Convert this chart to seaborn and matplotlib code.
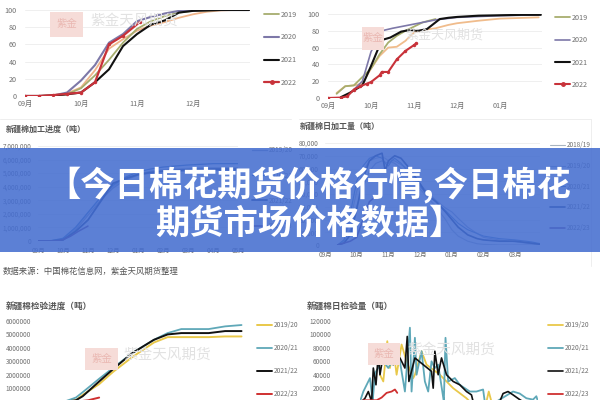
import matplotlib
matplotlib.use("Agg")
import matplotlib.pyplot as plt
from matplotlib.patches import Rectangle
from matplotlib.lines import Line2D
import seaborn as sns

sns.set_theme(style="white")
CJK = ['Noto Sans CJK SC', 'DejaVu Sans']
plt.rcParams['font.family'] = CJK

# ---------- data ----------
headline = "【今日棉花期货价格行情,今日棉花\n期货市场价格数据】"
source_note = "数据来源：中国棉花信息网，紫金天风期货整理"
brand = "紫金天风期货"

titles = ["新疆棉加工进度（吨）", "新疆棉日加工量（吨）", "新疆棉检验进度（吨）", "新疆棉日检验量（吨）"]

# panel 1: processing progress, percent, x in months after September
p1_months = ["09月", "10月", "11月", "12月"]
p1_x = [0, .25, .5, .75, 1, 1.25, 1.5, 1.75, 2, 2.25, 2.5, 2.75, 3, 3.25, 3.5, 3.75, 4]
p1_2018 = [0, 0, 1, 3, 10, 30, 55, 66, 76, 82, 86, 91, 95, 98, 99.5, 100, 100]
p1_2019 = [0, 0, .5, 2, 9, 24, 42, 62, 78, 87, 93, 97, 99, 99.5, 100, 100, 100]
p1_2020 = [0, 0, .5, 4, 18, 36, 62, 72, 87, 92, 96, 99, 99.5, 100, 100, 100, 100]
p1_2021 = [0, 0, .5, 2, 4, 16, 31, 58, 72, 83, 88, 97, 99, 99.5, 100, 100, 100]
p1_2022_x = [0, .25, .5, .75, 1, 1.25, 1.5, 1.75, 2.05]
p1_2022 = [0, 0, 1, 2.5, 4, 16, 60, 70, 86]

# panel 2: daily processing, percent
p2_months = ["09月", "10月", "11月", "12月", "01月"]
p2_2018_x = [.2, .4, .6, .8, 1, 1.2, 1.4, 1.6, 1.8, 2, 2.2, 2.5, 2.8, 3, 3.5, 4, 4.9]
p2_2018 = [6, 14, 15, 17, 35, 50, 60, 61, 68, 78, 81, 83, 87, 89, 92, 94.5, 96]
p2_2019_x = [.2, .4, .6, .8, 1, 1.2, 1.4, 1.6, 1.8, 2, 2.2, 2.5]
p2_2019 = [5, 14, 15, 25, 35, 52, 66, 74, 80, 85, 90, 94]
p2_2020_x = [.6, .8, 1, 1.25, 1.5, 2, 2.5, 3, 4, 4.9]
p2_2020 = [10, 20, 55, 80, 83, 88, 93, 96, 98, 99]
p2_2021_x = [.3, .5, .7, .8, 1, 1.25, 1.45, 1.7, 1.9, 2.1, 2.3, 2.4, 2.6, 2.8, 3, 3.5, 4, 4.5, 4.95]
p2_2021 = [1, 6, 12, 15, 38, 69, 72, 79, 81, 80, 82, 86, 94, 95.5, 96.5, 98, 98.5, 99, 99]
p2_2022_x = [0, .3, .45, .6, .75, .9, 1, 1.2, 1.25, 1.4, 1.6, 1.8, 2, 2.05]
p2_2022 = [0, .5, 2, 10, 14, 17, 19, 27, 31, 31, 46, 56, 63, 65]

# panel 3: cumulative processing, tons
p3_months = ["09月", "10月", "11月", "12月", "01月", "02月", "03月", "04月", "05月"]
p3_ticks = [0, 1000000, 2000000, 3000000, 4000000, 5000000, 6000000, 7000000]
p3_x = [0, .5, 1, 1.5, 2, 2.5, 3, 3.5, 4, 4.5, 5, 6, 7, 8]
p3_1819 = [0, 10000, 150000, 900000, 2100000, 3200000, 4000000, 4600000, 4950000, 5150000, 5250000, 5350000, 5400000, 5400000]
p3_1920 = [0, 5000, 100000, 800000, 1900000, 3000000, 3900000, 4500000, 4850000, 5000000, 5100000, 5150000, 5200000, 5200000]
p3_2021 = [0, 10000, 200000, 1000000, 2100000, 3200000, 4100000, 4700000, 5100000, 5300000, 5450000, 5600000, 5700000, 5700000]
p3_2122 = [0, 5000, 80000, 700000, 1550000, 2900000, 4250000, 4600000, 4900000, 5050000, 5150000, 5250000, 5300000, 5300000]
p3_2223_x = [0, .5, .8, 1, 1.3, 1.6, 2]
p3_2223 = [0, 3000, 20000, 100000, 350000, 700000, 1100000]

# panel 4: daily processing, tons
p4_months = ["09月", "10月", "11月", "12月", "01月", "02月", "03月"]
p4_ticks = [0, 10000, 20000, 30000, 40000, 50000, 60000, 70000, 80000]
p4_x = [.4, .6, .8, 1, 1.2, 1.4, 1.6, 1.8, 1.9, 2, 2.1, 2.2, 2.4, 2.6, 2.8, 3, 3.2, 3.5, 3.8, 4, 4.2, 4.5, 4.8, 5, 5.5, 6, 6.5, 6.8]
p4_1819 = [0, 4000, 20000, 42000, 58000, 66000, 68000, 69000, 68000, 66000, 65000, 64000, 60000, 56000, 50000, 44000, 38000, 30000, 20000, 12000, 7000, 3000, 1000, 500, 0, 0, 0, 0]
p4_1920 = [0, 3000, 12000, 30000, 45000, 58000, 64000, 66000, 65000, 64000, 66000, 66000, 63000, 60000, 54000, 48000, 42000, 35000, 29000, 26000, 21000, 14000, 9000, 6000, 4000, 2500, 1000, 500]
p4_2021 = [0, 4000, 25000, 50000, 62000, 68000, 70000, 68000, 64000, 62000, 66000, 68000, 64000, 58000, 52000, 46000, 40000, 34000, 27000, 22000, 17000, 12000, 9000, 7000, 5000, 4000, 2500, 1000]
p4_2122 = [0, 1500, 8000, 28000, 52000, 66000, 70000, 72000, 58000, 66000, 68000, 70000, 68000, 62000, 55000, 48000, 40000, 34000, 26000, 20000, 14000, 8000, 5000, 4000, 3000, 3000, 1500, 500]
p4_2223_x = [.4, .6, .8, 1, 1.2, 1.4, 1.6]
p4_2223 = [0, 1500, 3000, 6000, 20000, 34000, 38000]

# panel 5: inspection progress, tons
p5_ticks = [1000000, 2000000, 3000000, 4000000, 5000000, 6000000]
p5_x = [0, .7, 1.4, 1.75, 2, 2.6, 3.1, 3.8, 4.6, 5.1, 5.6, 6.6, 7.2, 7.8]
p5_1920 = [0, 0, 0, 100000, 500000, 1300000, 2200000, 3300000, 4400000, 4800000, 4800000, 4800000, 4850000, 4850000]
p5_2021 = [0, 0, 50000, 300000, 700000, 1700000, 2500000, 3600000, 4600000, 5100000, 5400000, 5400000, 5600000, 5700000]
p5_2122 = [0, 0, 0, 100000, 400000, 1500000, 2400000, 3600000, 4600000, 5000000, 5100000, 5100000, 5250000, 5250000]
p5_2223_x = [1.8, 2.2, 2.6]
p5_2223 = [0, 100000, 300000]

# panel 6: daily inspection, tons, x = day of season
p6_2021_x = [0, 10, 30, 38, 45, 60, 70, 85, 100, 120, 135, 150, 155, 165, 170, 185, 195, 205, 215, 225, 235, 252, 257, 265, 285, 300, 330, 350, 370, 375, 410, 460, 480, 500, 520, 530, 535]
p6_2021 = [0, 15000, 35000, 0, 42000, 55000, 60000, 50000, 62000, 60000, 15000, 110000, 15000, 95000, 40000, 75000, 30000, 15000, 60000, 50000, 55000, 0, 95000, 30000, 35000, 25000, 15000, 15000, 18000, 0, 0, 15000, 12000, 5000, 3000, 8000, 0]
p6_2122_x = [5, 15, 25, 35, 40, 48, 55, 60, 65, 80, 100, 120, 135, 142, 147, 165, 190, 215, 220, 225, 235, 245, 260, 280, 300, 320, 335, 340, 420, 430, 445, 460, 480, 490]
p6_2122 = [0, 5000, 15000, 0, 50000, 25000, 70000, 40000, 55000, 60000, 55000, 65000, 50000, 97000, 30000, 65000, 55000, 45000, 20000, 75000, 40000, 65000, 40000, 30000, 25000, 15000, 10000, 0, 0, 12000, 15000, 10000, 3000, 0]
p6_1920_x = [60, 70, 82, 90, 100, 110, 125, 140, 160, 165, 185, 200, 240, 280, 320, 330, 380, 387, 395]
p6_1920 = [40000, 30000, 90000, 50000, 80000, 40000, 85000, 60000, 35000, 40000, 75000, 55000, 40000, 20000, 5000, 0, 0, 15000, 0]
p6_2223_x = [0, 10, 50, 65, 80, 95, 105, 112]
p6_2223 = [0, 2000, 2000, 6000, 13000, 15000, 18000, 13000]

# ---------- helpers ----------
fig = plt.figure(figsize=(6, 4), dpi=100, facecolor="white")
W, H = 600, 400


def panel(x0, x1, ytop, ybot, xlim, ylim, xticks=(), xlabels=(), yticks=(), ylabels=None,
          fs=5.2, grid=True, ypad=4, xpad=3):
    ax = fig.add_axes([x0 / W, 1 - ybot / H, (x1 - x0) / W, (ybot - ytop) / H])
    ax.patch.set_alpha(0)
    ax.set_xlim(*xlim)
    ax.set_ylim(*ylim)
    for s in ax.spines.values():
        s.set_visible(False)
    ax.set_xticks(list(xticks), list(xlabels))
    ax.set_yticks(list(yticks), ylabels if ylabels is not None else [str(v) for v in yticks])
    ax.tick_params(axis="x", length=0, labelsize=fs, labelcolor="#6f6f6f", pad=xpad)
    ax.tick_params(axis="y", length=0, labelsize=fs, labelcolor="#6f6f6f", pad=ypad)
    if grid:
        ax.grid(axis="y", color="#efefef", linewidth=.7)
        ax.set_axisbelow(True)
    else:
        ax.grid(False)
    return ax


def draw(ax, x, y, color, label=None, lw=1.4, marker=None):
    sns.lineplot(x=x, y=y, color=color, label=label, linewidth=lw, ax=ax, sort=False,
                 errorbar=None, marker=marker, markersize=2.5 if marker else None,
                 markeredgewidth=0, solid_joinstyle="round", clip_on=True, legend=False)
    ax.set_xlabel("")
    ax.set_ylabel("")


def legend(ax, entries, x, y_first, spacing, fs=5.2):
    handles = [Line2D([], [], color=c, lw=lw, marker=m, markersize=2.5 if m else 0) for _, c, lw, m in entries]
    labels = [e[0] for e in entries]
    fpx = fs * 100 / 72
    ax.legend(handles, labels, loc="upper left", frameon=False,
              bbox_to_anchor=(x / W, 1 - (y_first - fpx * .55) / H), bbox_transform=fig.transFigure,
              borderpad=0, borderaxespad=0, fontsize=fs, labelcolor="#6f6f6f",
              labelspacing=(spacing - fpx) / fpx, handlelength=15 / fpx, handletextpad=.25)


def watermark(sx0, sx1, sy0, sy1, tx, ty, fs=10.5):
    fig.add_artist(Rectangle((sx0 / W, 1 - sy1 / H), (sx1 - sx0) / W, (sy1 - sy0) / H,
                             transform=fig.transFigure, facecolor="#f6dcd8", edgecolor="none", zorder=.5))
    fig.text(sx0 / W + (sx1 - sx0) / W / 2, 1 - (sy0 + sy1) / 2 / H, "紫金", color="#eab8b2", fontsize=7.5,
             ha="center", va="center", zorder=.6)
    fig.text(tx / W, 1 - ty / H, brand, color="#e2e2e2", fontsize=fs, va="center", zorder=.6)


def title(x, y, s, fs=5.8):
    fig.text(x / W, 1 - y / H, s, fontsize=fs, color="#555555", va="center", fontweight="bold")


# ---------- watermarks below the plots ----------
watermark(50, 83, 12, 37, 90, 21)
watermark(362, 384, 27, 50, 405, 35, fs=9.4)
watermark(85, 118, 348, 370, 123, 355)
watermark(368, 400, 343, 365, 407, 350)

# ---------- panel 1 ----------
ax = panel(25, 250, 10, 96, (0, 225 / 56), (0, 100), range(4), p1_months,
           [0, 20, 40, 60, 80, 100], ypad=6, xpad=3)
draw(ax, p1_x, p1_2018, "#f0b48a", lw=1.3)
draw(ax, p1_x, p1_2019, "#a6ad6e", "2019", lw=1.3)
draw(ax, p1_x, p1_2020, "#7d78a8", "2020", lw=1.5)
draw(ax, p1_x, p1_2021, "#111111", "2021", lw=1.5)
draw(ax, p1_2022_x, p1_2022, "#c8323a", "2022", lw=1.6, marker="o")
legend(ax, [("2019", "#a6ad6e", 1.3, None), ("2020", "#7d78a8", 1.5, None), ("2021", "#111111", 1.5, None),
            ("2022", "#c8323a", 1.6, "o")], 264, 14.5, 22)

# ---------- panel 2 ----------
ax = panel(328, 542, 14, 98, (0, 214 / 43), (0, 100), range(5), p2_months,
           [0, 20, 40, 60, 80, 100], ypad=6, xpad=3)
draw(ax, p2_2018_x, p2_2018, "#f0bc8c", lw=1.3)
draw(ax, p2_2019_x, p2_2019, "#a8ae6e", "2019", lw=1.3)
draw(ax, p2_2020_x, p2_2020, "#7d78a8", "2020", lw=1.2)
draw(ax, p2_2021_x, p2_2021, "#111111", "2021", lw=1.5)
draw(ax, p2_2022_x, p2_2022, "#c8323a", "2022", lw=1.5, marker="o")
legend(ax, [("2019", "#a8ae6e", 1.3, None), ("2020", "#7d78a8", 1.2, None), ("2021", "#111111", 1.5, None),
            ("2022", "#c8323a", 1.5, "o")], 555, 18, 21.5)

# ---------- panel 3 ----------
ax = panel(38, 238, 146, 241, (0, 8), (0, 7000000), range(9), p3_months, p3_ticks,
           [f"{v:,}" for v in p3_ticks], fs=4.6, ypad=4.5, xpad=4)
draw(ax, p3_x, p3_1819, "#9fb2c8", lw=.9)
draw(ax, p3_x, p3_1920, "#7e93b4", "2019/20", lw=.9)
draw(ax, p3_x, p3_2021, "#2f6fb3", "2020/21", lw=.9)
draw(ax, p3_x, p3_2122, "#0f2f6e", "2021/22", lw=1.3)
draw(ax, p3_2223_x, p3_2223, "#5a2a78", "2022/23", lw=1.1)
legend(ax, [("2019/20", "#7e93b4", .9, None), ("2020/21", "#2f6fb3", .9, None),
            ("2021/22", "#0f2f6e", 1.3, None), ("2022/23", "#5a2a78", 1.1, None)], 252, 150, 23.5, fs=4.6)

# ---------- panel 4 ----------
ax = panel(325, 540, 143, 245, (0, 215 / 31.7), (0, 80000), range(7), p4_months, p4_ticks,
           [f"{v:,}" if v else "0" for v in p4_ticks], fs=4.6, ypad=4.5, xpad=4)
draw(ax, p4_x, p4_1819, "#a8b4c0", "2018/19", lw=.8)
draw(ax, p4_x, p4_1920, "#8aa0c0", "2019/20", lw=.8)
draw(ax, p4_x, p4_2021, "#3f78b5", "2020/21", lw=.8)
draw(ax, p4_x, p4_2122, "#0f2f6e", "2021/22", lw=1.2)
draw(ax, p4_2223_x, p4_2223, "#5a2a78", "2022/23", lw=1.1)
legend(ax, [("2018/19", "#a8b4c0", .8, None), ("2019/20", "#8aa0c0", .8, None), ("2020/21", "#3f78b5", .8, None),
            ("2021/22", "#0f2f6e", 1.2, None), ("2022/23", "#5a2a78", 1.1, None)], 550, 145, 19, fs=4.6)

# ---------- panel 5 ----------
ax = panel(34, 247, 321, 401.6, (.22, 8), (0, 6000000), yticks=p5_ticks, fs=4.6, grid=False, ypad=2)
draw(ax, p5_x, p5_1920, "#e9c84a", "2019/20", lw=1.4)
draw(ax, p5_x, p5_2021, "#5fa8b8", "2020/21", lw=1.3)
draw(ax, p5_x, p5_2122, "#111111", "2021/22", lw=1.4)
draw(ax, p5_2223_x, p5_2223, "#cf3030", "2022/23", lw=1.4)
legend(ax, [("2019/20", "#e9c84a", 1.4, None), ("2020/21", "#5fa8b8", 1.3, None), ("2021/22", "#111111", 1.4, None),
            ("2022/23", "#cf3030", 1.4, None)], 257, 325, 21.6, fs=4.8)

# ---------- panel 6 ----------
ax = panel(360, 538, 321, 401.6, (0, 535), (0, 120000), yticks=[20000, 40000, 60000, 80000, 100000, 120000],
           fs=4.6, grid=False, ypad=21)
draw(ax, p6_1920_x, p6_1920, "#e9c84a", "2019/20", lw=1.3)
draw(ax, p6_2021_x, p6_2021, "#5fa8b8", "2020/21", lw=1.3)
draw(ax, p6_2122_x, p6_2122, "#111111", "2021/22", lw=1.2)
draw(ax, p6_2223_x, p6_2223, "#cf3030", "2022/23", lw=1.3)
legend(ax, [("2019/20", "#e9c84a", 1.3, None), ("2020/21", "#5fa8b8", 1.3, None), ("2021/22", "#111111", 1.2, None),
            ("2022/23", "#cf3030", 1.3, None)], 548, 325, 21.6, fs=4.8)

# ---------- panel titles, note, card edges ----------
title(6, 129, titles[0])
title(300, 126, titles[1])
title(6, 306, titles[2], fs=6.2)
title(307, 306, titles[3], fs=6.2)
fig.text(3 / W, 1 - 271 / H, source_note, fontsize=6.0, color="#555555", va="center")
fig.add_artist(Line2D([0, 291 / W], [1 - 118.5 / H] * 2, color="#eeeeee", lw=.7, transform=fig.transFigure, zorder=.4))
fig.add_artist(Line2D([299 / W, 591 / W], [1 - 118.5 / H] * 2, color="#eeeeee", lw=.7, transform=fig.transFigure, zorder=.4))
fig.add_artist(Line2D([591 / W] * 2, [1 - 118.5 / H, 1 - 266 / H], color="#eeeeee", lw=.7, transform=fig.transFigure, zorder=.4))

# ---------- headline banner ----------
fig.add_artist(Rectangle((0, 1 - 252 / H), 1, 104 / H, transform=fig.transFigure, facecolor="#456ed0",
                         alpha=.88, edgecolor="none", zorder=5))
fig.text(.515, 1 - 203 / H, headline, color="white", fontsize=24.7, fontweight="bold", ha="center", va="center",
         linespacing=1.09, zorder=6)

fig.savefig("out.png", dpi=100)
